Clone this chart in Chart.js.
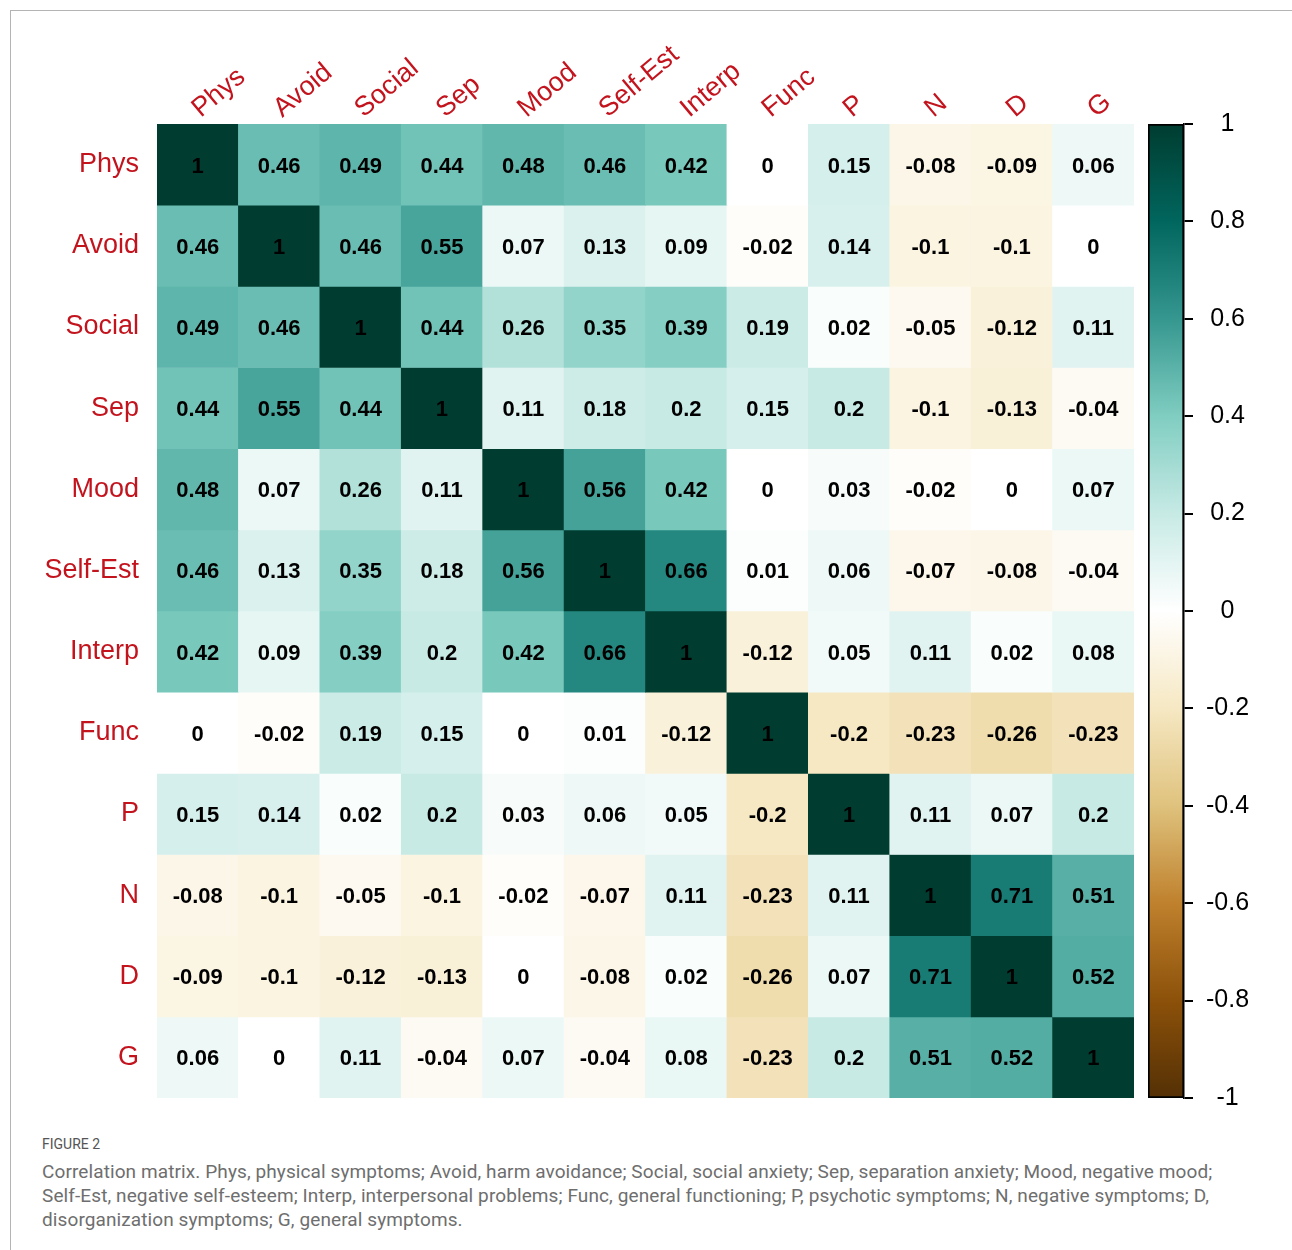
<!DOCTYPE html>
<html>
<head>
<meta charset="utf-8">
<title>Correlation matrix</title>
<script src="https://cdn.jsdelivr.net/npm/chart.js@4.4.1/dist/chart.umd.min.js"></script>
<style>
  body { margin: 0; background: #fff; }
  #page { position: relative; width: 1292px; height: 1250px; overflow: hidden; }
  #frame { position: absolute; left: 10px; top: 10px; width: 1300px; height: 1300px;
           border-top: 1px solid #b4b4b4; border-left: 1px solid #b4b4b4; }
  #matrix { position: absolute; left: 0; top: 0; }
  #legendBar { position: absolute; left: 1130px; top: 100px; }
  #caption { position: absolute; left: 42px; top: 1135px; font-family: Roboto, "Open Sans", sans-serif; color: #6e6e6e; }
  #caption .fig { font-size: 14px; color: #555; line-height: 18px; margin-bottom: 7px; }
  #caption .line { font-size: 19px; line-height: 24px; letter-spacing: 0.1px; white-space: nowrap; }
</style>
</head>
<body>
<div id="page">
  <div id="frame"></div>
  <canvas id="matrix" width="1140" height="1110"></canvas>
  <canvas id="legendBar" width="162" height="1020"></canvas>
  <div id="caption">
    <div class="fig">FIGURE 2</div>
    <div class="line">Correlation matrix. Phys, physical symptoms; Avoid, harm avoidance; Social, social anxiety; Sep, separation anxiety; Mood, negative mood;</div>
    <div class="line">Self-Est, negative self-esteem; Interp, interpersonal problems; Func, general functioning; P, psychotic symptoms; N, negative symptoms; D,</div>
    <div class="line">disorganization symptoms; G, general symptoms.</div>
  </div>
</div>
<script>
// variable names, same order for rows and columns
const varLabels = ['Phys', 'Avoid', 'Social', 'Sep', 'Mood', 'Self-Est', 'Interp', 'Func', 'P', 'N', 'D', 'G'];

// one row of the correlation matrix per variable
const physRow   = [1, 0.46, 0.49, 0.44, 0.48, 0.46, 0.42, 0, 0.15, -0.08, -0.09, 0.06];
const avoidRow  = [0.46, 1, 0.46, 0.55, 0.07, 0.13, 0.09, -0.02, 0.14, -0.1, -0.1, 0];
const socialRow = [0.49, 0.46, 1, 0.44, 0.26, 0.35, 0.39, 0.19, 0.02, -0.05, -0.12, 0.11];
const sepRow    = [0.44, 0.55, 0.44, 1, 0.11, 0.18, 0.2, 0.15, 0.2, -0.1, -0.13, -0.04];
const moodRow   = [0.48, 0.07, 0.26, 0.11, 1, 0.56, 0.42, 0, 0.03, -0.02, 0, 0.07];
const selfEstRow = [0.46, 0.13, 0.35, 0.18, 0.56, 1, 0.66, 0.01, 0.06, -0.07, -0.08, -0.04];
const interpRow = [0.42, 0.09, 0.39, 0.2, 0.42, 0.66, 1, -0.12, 0.05, 0.11, 0.02, 0.08];
const funcRow   = [0, -0.02, 0.19, 0.15, 0, 0.01, -0.12, 1, -0.2, -0.23, -0.26, -0.23];
const pRow      = [0.15, 0.14, 0.02, 0.2, 0.03, 0.06, 0.05, -0.2, 1, 0.11, 0.07, 0.2];
const nRow      = [-0.08, -0.1, -0.05, -0.1, -0.02, -0.07, 0.11, -0.23, 0.11, 1, 0.71, 0.51];
const dRow      = [-0.09, -0.1, -0.12, -0.13, 0, -0.08, 0.02, -0.26, 0.07, 0.71, 1, 0.52];
const gRow      = [0.06, 0, 0.11, -0.04, 0.07, -0.04, 0.08, -0.23, 0.2, 0.51, 0.52, 1];

const corrRows = [physRow, avoidRow, socialRow, sepRow, moodRow, selfEstRow,
                  interpRow, funcRow, pRow, nRow, dRow, gRow];

// colour bar ticks
const barTicks = [1, 0.8, 0.6, 0.4, 0.2, 0, -0.2, -0.4, -0.6, -0.8, -1];
const barTickLabels = ['1', '0.8', '0.6', '0.4', '0.2', '0', '-0.2', '-0.4', '-0.6', '-0.8', '-1'];

// BrBG palette from -1 to 1
const paletteStops = ['#543005', '#8C510A', '#BF812D', '#DFC27D', '#F6E8C3', '#FFFFFF',
                      '#C7EAE5', '#80CDC1', '#35978F', '#01665E', '#003C30'];

const labelRed = '#c3141e';
const fontFamily = '"Liberation Sans", Arial, Helvetica, sans-serif';

function hexToRgb(hex) {
    const n = parseInt(hex.slice(1), 16);
    return [(n >> 16) & 255, (n >> 8) & 255, n & 255];
}

function corrColor(v) {
    const pos = (v + 1) / 2 * (paletteStops.length - 1);
    const i = Math.min(Math.floor(pos), paletteStops.length - 2);
    const t = pos - i;
    const a = hexToRgb(paletteStops[i]);
    const b = hexToRgb(paletteStops[i + 1]);
    const c = a.map((ch, k) => Math.round(ch + (b[k] - ch) * t));
    return `rgb(${c[0]}, ${c[1]}, ${c[2]})`;
}

// numbers in the cells
const cellValuePlugin = {
    id: 'cellValues',
    afterDatasetsDraw(chart) {
        const ctx = chart.ctx;
        ctx.save();
        ctx.font = `bold 22px ${fontFamily}`;
        ctx.fillStyle = '#000';
        ctx.textAlign = 'center';
        ctx.textBaseline = 'middle';
        corrRows.forEach((row, i) => {
            chart.getDatasetMeta(i).data.forEach((bar, j) => {
                const c = bar.getCenterPoint();
                ctx.fillText(String(row[j]), c.x, c.y + 2);
            });
        });
        ctx.restore();
    }
};

// slanted column names above the grid
const columnLabelPlugin = {
    id: 'columnLabels',
    afterDraw(chart) {
        const {ctx, chartArea, scales} = chart;
        ctx.save();
        ctx.font = `27px ${fontFamily}`;
        ctx.fillStyle = labelRed;
        ctx.textAlign = 'left';
        ctx.textBaseline = 'alphabetic';
        varLabels.forEach((name, j) => {
            ctx.save();
            ctx.translate(scales.x.getPixelForValue(j) + 3, chartArea.top - 6);
            ctx.rotate(-40 * Math.PI / 180);
            ctx.fillText(name, 0, 0);
            ctx.restore();
        });
        ctx.restore();
    }
};

// keep the axis label overhang from shrinking the plot area
function noLabelPadding(scale) {
    scale.paddingTop = 0;
    scale.paddingBottom = 0;
}

new Chart(document.getElementById('matrix'), {
    type: 'bar',
    data: {
        labels: varLabels,
        datasets: corrRows.map((row, i) => ({
            label: varLabels[i],
            data: row.map(() => 1),
            backgroundColor: row.map(corrColor),
            borderWidth: 0,
            barPercentage: 1,
            categoryPercentage: 1
        }))
    },
    options: {
        responsive: false,
        animation: false,
        layout: { padding: { left: 10, top: 124, right: 6, bottom: 12 } },
        plugins: { legend: { display: false }, tooltip: { enabled: false } },
        scales: {
            x: { type: 'category', stacked: true, display: false, offset: true },
            y: { type: 'linear', stacked: true, reverse: true, min: 0, max: 12, display: false },
            rows: {
                type: 'category',
                labels: varLabels,
                position: 'left',
                offset: true,
                grid: { display: false, drawTicks: false },
                border: { display: false },
                ticks: { color: labelRed, font: { family: fontFamily, size: 27 }, padding: 18, autoSkip: false },
                afterFit: (scale) => { scale.width = 147; noLabelPadding(scale); }
            }
        }
    },
    plugins: [cellValuePlugin, columnLabelPlugin]
});

// colour legend
new Chart(document.getElementById('legendBar'), {
    type: 'bar',
    data: {
        labels: [''],
        datasets: [{
            data: [[-1, 1]],
            backgroundColor: (context) => {
                const chart = context.chart;
                if (!chart.chartArea) return null;
                const yScale = chart.scales.y;
                const g = chart.ctx.createLinearGradient(0, yScale.getPixelForValue(-1), 0, yScale.getPixelForValue(1));
                paletteStops.forEach((c, k) => g.addColorStop(k / (paletteStops.length - 1), c));
                return g;
            },
            borderColor: '#000',
            borderWidth: 2,
            borderSkipped: false,
            barPercentage: 1,
            categoryPercentage: 1
        }]
    },
    options: {
        responsive: false,
        animation: false,
        layout: { padding: { left: 18, top: 24, right: 33, bottom: 22 } },
        plugins: { legend: { display: false }, tooltip: { enabled: false } },
        scales: {
            x: { display: false },
            y: {
                position: 'right',
                min: -1,
                max: 1,
                afterBuildTicks: (scale) => { scale.ticks = barTicks.map(v => ({ value: v })); },
                afterFit: (scale) => { scale.width = 75; noLabelPadding(scale); },
                grid: { drawOnChartArea: false, tickLength: 9, color: '#000', lineWidth: 2 },
                border: { color: '#000', width: 1.5 },
                ticks: {
                    color: '#000',
                    font: { family: fontFamily, size: 25 },
                    padding: 13,
                    crossAlign: 'center',
                    callback: (v) => barTickLabels[barTicks.indexOf(v)]
                }
            }
        }
    }
});
</script>
</body>
</html>
